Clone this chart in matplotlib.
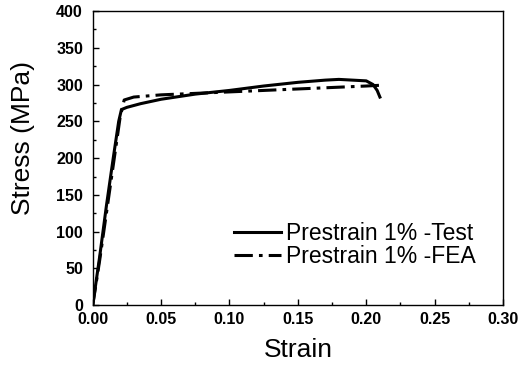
import matplotlib.pyplot as plt
from matplotlib.ticker import MultipleLocator, FormatStrFormatter

plt.rcParams['font.family'] = ['Liberation Sans', 'DejaVu Sans']

# Test curve (strain, MPa)
test_strain = [0.0, 0.005, 0.010, 0.015, 0.019, 0.021, 0.025, 0.035, 0.05, 0.075, 0.10,
               0.125, 0.15, 0.17, 0.18, 0.19, 0.200, 0.205, 0.208, 0.210]
test_stress = [0.0, 65, 135, 200, 250, 266, 269, 274, 280, 287, 292,
               298, 303, 306, 307, 306, 305, 300, 292, 283]

# FEA curve
fea_strain = [0.0, 0.005, 0.010, 0.015, 0.020, 0.023, 0.030, 0.05, 0.075, 0.10,
              0.125, 0.15, 0.175, 0.20, 0.210]
fea_stress = [0.0, 60, 125, 190, 255, 279, 283, 286, 288, 290,
              292, 294, 296, 298, 299]

fig = plt.figure(figsize=(5.18, 3.66), dpi=100)
ax = fig.add_axes([0.179, 0.166, 0.792, 0.804])

ax.plot(test_strain, test_stress, color='black', lw=2.2, ls='-', label='Prestrain 1% -Test')
ax.plot(fea_strain, fea_stress, color='black', lw=2.2, ls=(0, (6, 2, 1.2, 2)),
        label='Prestrain 1% -FEA')

ax.set_xlim(0, 0.30)
ax.set_ylim(0, 400)
ax.xaxis.set_major_locator(MultipleLocator(0.05))
ax.xaxis.set_minor_locator(MultipleLocator(0.025))
ax.xaxis.set_major_formatter(FormatStrFormatter('%.2f'))
ax.yaxis.set_major_locator(MultipleLocator(50))
ax.yaxis.set_minor_locator(MultipleLocator(25))
ax.tick_params(which='major', direction='in', length=4, width=1, labelsize=11.5)
ax.tick_params(axis='x', which='major', pad=5)
ax.tick_params(axis='y', which='major', pad=7)
ax.tick_params(which='minor', direction='in', length=2.5, width=1)
for lab in ax.get_xticklabels() + ax.get_yticklabels():
    lab.set_fontweight('bold')
for s in ax.spines.values():
    s.set_linewidth(1)

ax.set_xlabel('Strain', fontsize=19, labelpad=8)
ax.set_ylabel('Stress (MPa)', fontsize=19)
ax.yaxis.set_label_coords(-0.14, 0.57)

ax.legend(loc='lower right', bbox_to_anchor=(0.955, 0.095), frameon=False, fontsize=16.5,
          handlelength=2.05, handletextpad=0.2, labelspacing=0.0, borderaxespad=0)

fig.savefig('out.png', dpi=100)
